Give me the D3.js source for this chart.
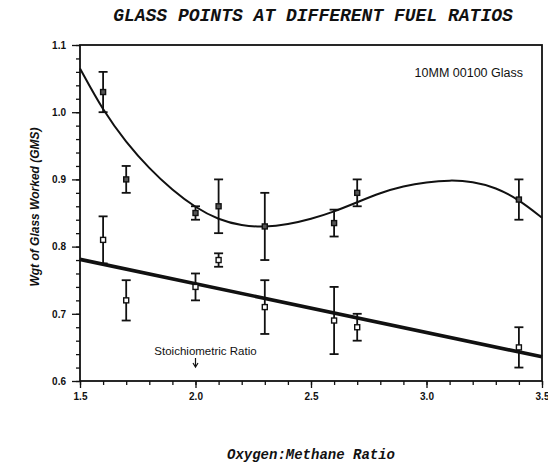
<!DOCTYPE html>
<html>
<head>
<meta charset="utf-8">
<script src="https://cdn.jsdelivr.net/npm/d3@7"></script>
<style>
    body { margin: 0; background: #fff; }
    svg { display: block; }
</style>
</head>
<body>
<svg id="chart"></svg>
<script>
//Data
const ratios = [1.6, 1.7, 2.0, 2.1, 2.3, 2.6, 2.7, 3.4];
const upperWgt = [1.03, 0.90, 0.85, 0.86, 0.83, 0.835, 0.88, 0.87];
const upperErr = [0.03, 0.02, 0.01, 0.04, 0.05, 0.02, 0.02, 0.03];
const lowerWgt = [0.81, 0.72, 0.74, 0.78, 0.71, 0.69, 0.68, 0.65];
const lowerErr = [0.035, 0.03, 0.02, 0.01, 0.04, 0.05, 0.02, 0.03];

//fitted curves
const curveX = [1.5, 1.6, 1.7, 1.8, 1.9, 2.0, 2.1, 2.2, 2.3, 2.4, 2.5, 2.6, 2.7, 2.8, 2.9, 3.0, 3.1, 3.2, 3.3, 3.4, 3.5];
const curveY = [1.065, 1.002, 0.955, 0.916, 0.884, 0.858, 0.840, 0.831, 0.829, 0.833, 0.841, 0.852, 0.866, 0.880, 0.890, 0.896, 0.899, 0.897, 0.888, 0.870, 0.843];
const lineX = [1.5, 3.5];
const lineY = [0.781, 0.636];

const xTicks = [1.5, 2.0, 2.5, 3.0, 3.5];
const yTicks = [0.6, 0.7, 0.8, 0.9, 1.0, 1.1];

//Canvas
let width = 548;
let height = 463;
let margin = {left: 80, top: 45, right: 6, bottom: 82};
let ink = '#111';

let svg = d3.select('#chart')
    .attr('width', width)
    .attr('height', height);

let xScale = d3.scaleLinear()
    .domain([1.5, 3.5])
    .range([margin.left, width - margin.right]);
let yScale = d3.scaleLinear()
    .domain([0.6, 1.1])
    .range([height - margin.bottom, margin.top]);

//minor ticks
let xMinor = d3.axisBottom(xScale).tickValues(d3.range(15, 36).map(d => d / 10)).tickSize(4).tickFormat('');
let yMinor = d3.axisLeft(yScale).tickValues(d3.range(30, 56).map(d => d / 50)).tickSize(4).tickFormat('');

svg.append('g')
    .attr('transform', 'translate(0,' + yScale(0.6) + ')')
    .call(xMinor);
svg.append('g')
    .attr('transform', 'translate(' + xScale(1.5) + ',0)')
    .call(yMinor);

//major axes
let xAxis = d3.axisBottom(xScale).tickValues(xTicks).tickSize(7).tickPadding(5).tickFormat(d3.format('.1f'));
let yAxis = d3.axisLeft(yScale).tickValues(yTicks).tickSize(8).tickPadding(6).tickFormat(d3.format('.1f'));

svg.append('g')
    .attr('id', 'x-axis')
    .attr('transform', 'translate(0,' + yScale(0.6) + ')')
    .call(xAxis);
svg.append('g')
    .attr('id', 'y-axis')
    .attr('transform', 'translate(' + xScale(1.5) + ',0)')
    .call(yAxis);

svg.selectAll('.domain').remove();
svg.selectAll('.tick line').attr('stroke', ink).attr('stroke-width', 1.3);
svg.selectAll('.tick text')
    .attr('fill', ink)
    .style('font-family', 'Liberation Sans, Arial, sans-serif')
    .style('font-weight', 'bold')
    .style('font-size', '10px');

//frame
svg.append('rect')
    .attr('x', xScale(1.5))
    .attr('y', yScale(1.1))
    .attr('width', xScale(3.5) - xScale(1.5))
    .attr('height', yScale(0.6) - yScale(1.1))
    .attr('fill', 'none')
    .attr('stroke', ink)
    .attr('stroke-width', 1.8);

//fit curves
let curveLine = d3.line()
    .x(d => xScale(d[0]))
    .y(d => yScale(d[1]))
    .curve(d3.curveBasis);

svg.append('path')
    .datum(curveX.map((x, i) => [x, curveY[i]]))
    .attr('d', curveLine)
    .attr('fill', 'none')
    .attr('stroke', ink)
    .attr('stroke-width', 2);

svg.append('path')
    .datum(lineX.map((x, i) => [x, lineY[i]]))
    .attr('d', d3.line().x(d => xScale(d[0])).y(d => yScale(d[1])))
    .attr('fill', 'none')
    .attr('stroke', ink)
    .attr('stroke-width', 3.6);

//error bars + markers
let drawSeries = (values, errs, filled) => {
    let pts = ratios.map((x, i) => ({x: x, y: values[i], e: errs[i]}));
    let g = svg.append('g');
    let bars = g.selectAll('g')
        .data(pts)
        .enter()
        .append('g');

    bars.append('line')
        .attr('x1', d => xScale(d.x))
        .attr('x2', d => xScale(d.x))
        .attr('y1', d => yScale(d.y + d.e))
        .attr('y2', d => yScale(d.y - d.e))
        .attr('stroke', ink)
        .attr('stroke-width', 1.8);

    [1, -1].forEach(s => {
        bars.append('line')
            .attr('x1', d => xScale(d.x) - 4.5)
            .attr('x2', d => xScale(d.x) + 4.5)
            .attr('y1', d => yScale(d.y + s * d.e))
            .attr('y2', d => yScale(d.y + s * d.e))
            .attr('stroke', ink)
            .attr('stroke-width', 1.8);
    });

    bars.append('rect')
        .attr('x', d => xScale(d.x) - 2.5)
        .attr('y', d => yScale(d.y) - 2.5)
        .attr('width', 5)
        .attr('height', 5)
        .attr('fill', filled ? '#555' : '#fff')
        .attr('stroke', ink)
        .attr('stroke-width', 1.4);
}

drawSeries(upperWgt, upperErr, true);
drawSeries(lowerWgt, lowerErr, false);

//texts
svg.append('text')
    .attr('x', 313)
    .attr('y', 21)
    .attr('text-anchor', 'middle')
    .style('font-family', 'Liberation Mono, Courier New, monospace')
    .style('font-weight', 'bold')
    .style('font-style', 'italic')
    .style('font-size', '18px')
    .attr('fill', ink)
    .text('GLASS POINTS AT DIFFERENT FUEL RATIOS');

svg.append('text')
    .attr('x', 311)
    .attr('y', 459)
    .attr('text-anchor', 'middle')
    .style('font-family', 'Liberation Mono, Courier New, monospace')
    .style('font-weight', 'bold')
    .style('font-style', 'italic')
    .style('font-size', '14px')
    .attr('fill', ink)
    .text('Oxygen:Methane Ratio');

svg.append('text')
    .attr('transform', 'translate(39,207) rotate(-90)')
    .attr('text-anchor', 'middle')
    .style('font-family', 'Liberation Sans, Arial, sans-serif')
    .style('font-weight', 'bold')
    .style('font-style', 'italic')
    .style('font-size', '12px')
    .attr('fill', ink)
    .text('Wgt of Glass Worked (GMS)');

svg.append('text')
    .attr('x', 523)
    .attr('y', 77)
    .attr('text-anchor', 'end')
    .style('font-family', 'Liberation Sans, Arial, sans-serif')
    .style('font-size', '12.5px')
    .attr('fill', ink)
    .text('10MM 00100 Glass');

svg.append('text')
    .attr('x', xScale(2.0) + 10)
    .attr('y', 355)
    .attr('text-anchor', 'middle')
    .style('font-family', 'Liberation Sans, Arial, sans-serif')
    .style('font-size', '11.5px')
    .attr('fill', ink)
    .text('Stoichiometric Ratio');

//arrow to stoichiometric point
svg.append('line')
    .attr('x1', xScale(2.0))
    .attr('x2', xScale(2.0))
    .attr('y1', 358)
    .attr('y2', 366)
    .attr('stroke', ink)
    .attr('stroke-width', 1.2);
svg.append('path')
    .attr('d', 'M' + (xScale(2.0) - 2.5) + ',363 L' + xScale(2.0) + ',367 L' + (xScale(2.0) + 2.5) + ',363')
    .attr('fill', 'none')
    .attr('stroke', ink)
    .attr('stroke-width', 1.2);
</script>
</body>
</html>
